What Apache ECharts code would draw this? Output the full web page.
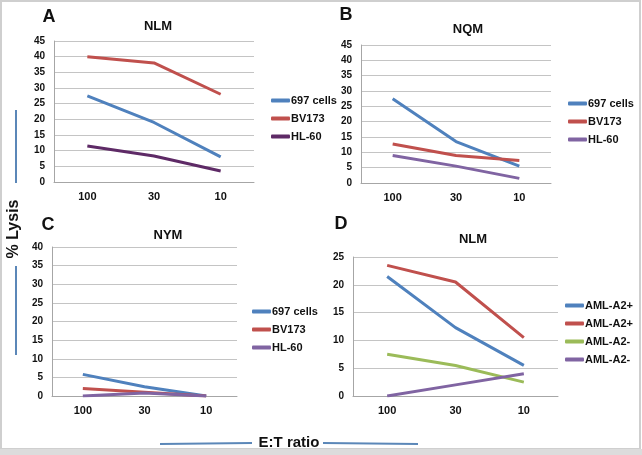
<!DOCTYPE html>
<html>
<head>
<meta charset="utf-8">
<script src="https://cdn.jsdelivr.net/npm/echarts@6/dist/echarts.min.js"></script>
<style>
  html, body { margin: 0; padding: 0; background: #fff; }
  #chart { width: 642px; height: 455px; }
</style>
</head>
<body>
<div id="chart"></div>
<script>
// E:T ratio categories, shared by all four panels
const ratios = ['100', '30', '10'];

// panel A - NLM
const aCells697 = [27.5, 19, 8];
const aBV173 = [40, 38, 28];
const aHL60 = [11.5, 8.3, 3.5];

// panel B - NQM
const bCells697 = [27.5, 13.5, 5.5];
const bBV173 = [12.7, 9, 7.3];
const bHL60 = [9, 5.5, 1.5];

// panel C - NYM
const cCells697 = [5.8, 2.5, 0];
const cBV173 = [2, 1, 0];
const cHL60 = [0, 0.8, 0];

// panel D - NLM (AML patients)
const dA2posA = [21.5, 12.3, 5.5];
const dA2posB = [23.5, 20.5, 10.5];
const dA2negA = [7.5, 5.5, 2.5];
const dA2negB = [0, 2, 4];

const yMax = [45, 45, 40, 25];

const BLUE = '#4f81bd', RED = '#c0504d', GREEN = '#9bbb59';
const PURPLE = '#8064a2', DARKPURPLE = '#5e2a66';
const FONT = 'Liberation Sans, Arial, sans-serif';

// pixel layout of the four panels
const grids = [
  { left: 54, top: 41, width: 200, height: 141 },
  { left: 361, top: 45, width: 190, height: 138 },
  { left: 52, top: 247, width: 185, height: 149 },
  { left: 353, top: 257, width: 205, height: 139 }
];

const panels = [
  { key: 'A', title: 'NLM', series: [['697 cells', aCells697, BLUE], ['BV173', aBV173, RED], ['HL-60', aHL60, DARKPURPLE]] },
  { key: 'B', title: 'NQM', series: [['697 cells', bCells697, BLUE], ['BV173', bBV173, RED], ['HL-60', bHL60, PURPLE]] },
  { key: 'C', title: 'NYM', series: [['697 cells', cCells697, BLUE], ['BV173', cBV173, RED], ['HL-60', cHL60, PURPLE]] },
  { key: 'D', title: 'NLM', series: [['AML-A2+', dA2posA, BLUE], ['AML-A2+', dA2posB, RED], ['AML-A2-', dA2negA, GREEN], ['AML-A2-', dA2negB, PURPLE]] }
];

const legendPos = [
  { left: 266, top: 90 },
  { left: 563, top: 93 },
  { left: 247, top: 301 },
  { left: 560, top: 295 }
];

const titlePos = [[158, 26], [468, 29], [168, 235], [473, 239]];
const letterPos = [[49, 17], [346, 15], [48, 225], [341, 224]];

const xAxis = [], yAxis = [], series = [], legend = [], graphic = [];

panels.forEach((p, i) => {
  xAxis.push({
    type: 'category',
    gridIndex: i,
    data: ratios,
    axisLine: { lineStyle: { color: '#a6a6a6', width: 1 } },
    axisTick: { show: false },
    axisLabel: { color: '#111', fontWeight: 'bold', fontSize: 11, fontFamily: FONT, margin: 9 }
  });
  yAxis.push({
    type: 'value',
    gridIndex: i,
    min: 0,
    max: yMax[i],
    interval: 5,
    axisLine: { show: true, lineStyle: { color: '#a6a6a6', width: 1 } },
    axisTick: { show: false },
    axisLabel: { color: '#111', fontWeight: 'bold', fontSize: 10, fontFamily: FONT, margin: 9 },
    splitLine: { lineStyle: { color: '#c4c4c4', width: 1 } }
  });
  const items = [];
  p.series.forEach((s, j) => {
    const name = s[0] + '|' + p.key + j;
    items.push({ name: name, itemStyle: { color: s[2] } });
    series.push({
      type: 'line',
      name: name,
      xAxisIndex: i,
      yAxisIndex: i,
      data: s[1],
      showSymbol: false,
      symbol: 'none',
      itemStyle: { color: s[2] },
      lineStyle: { width: 3, color: s[2] }
    });
  });
  legend.push({
    orient: 'vertical',
    left: legendPos[i].left,
    top: legendPos[i].top,
    data: items,
    icon: 'roundRect',
    itemWidth: 19,
    itemHeight: 4,
    itemGap: 7,
    formatter: n => n.split('|')[0],
    textStyle: { color: '#111', fontWeight: 'bold', fontSize: 11, fontFamily: FONT, padding: [0, 0, 0, -4] }
  });
  graphic.push({
    type: 'text', x: titlePos[i][0], y: titlePos[i][1],
    style: { text: p.title, fill: '#111', font: 'bold 13px ' + FONT, textAlign: 'center', textVerticalAlign: 'middle' }
  });
  graphic.push({
    type: 'text', x: letterPos[i][0], y: letterPos[i][1],
    style: { text: p.key, fill: '#111', font: 'bold 18px ' + FONT, textAlign: 'center', textVerticalAlign: 'middle' }
  });
});

// frame
graphic.push({ type: 'rect', shape: { x: 1, y: 1, width: 639, height: 448 }, style: { fill: 'none', stroke: '#cfcfcf', lineWidth: 2 }, z: -1 });
graphic.push({ type: 'rect', shape: { x: 0, y: 449, width: 642, height: 6 }, style: { fill: '#dcdcdc' }, z: -1 });

// shared axis titles with their decorative rules
graphic.push({
  type: 'text', x: 14, y: 229, rotation: Math.PI / 2,
  style: { text: '% Lysis', fill: '#111', font: 'bold 16px ' + FONT, textAlign: 'center', textVerticalAlign: 'middle' }
});
graphic.push({ type: 'line', shape: { x1: 16, y1: 110, x2: 16, y2: 183 }, style: { stroke: '#5b87b8', lineWidth: 2 } });
graphic.push({ type: 'line', shape: { x1: 16, y1: 266, x2: 16, y2: 355 }, style: { stroke: '#5b87b8', lineWidth: 2 } });
graphic.push({
  type: 'text', x: 289, y: 443,
  style: { text: 'E:T ratio', fill: '#111', font: 'bold 15px ' + FONT, textAlign: 'center', textVerticalAlign: 'middle' }
});
graphic.push({ type: 'line', shape: { x1: 160, y1: 444, x2: 252, y2: 443 }, style: { stroke: '#5b87b8', lineWidth: 2 } });
graphic.push({ type: 'line', shape: { x1: 323, y1: 443, x2: 418, y2: 444 }, style: { stroke: '#5b87b8', lineWidth: 2 } });

const chart = echarts.init(document.getElementById('chart'));
chart.setOption({
  animation: false,
  backgroundColor: '#fff',
  grid: grids,
  xAxis: xAxis,
  yAxis: yAxis,
  legend: legend,
  series: series,
  graphic: graphic
});
</script>
</body>
</html>
